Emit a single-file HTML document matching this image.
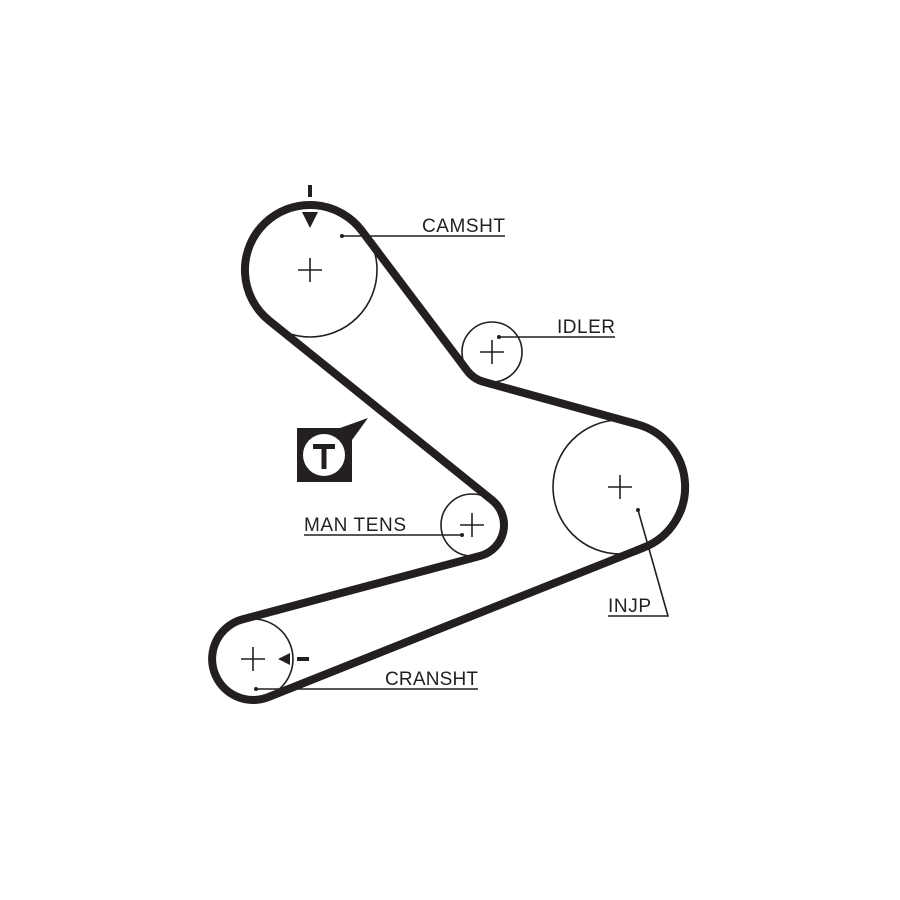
<!DOCTYPE html>
<html><head><meta charset="utf-8"><style>
html,body{margin:0;padding:0;background:#fff;}
svg{display:block;}
text{font-family:"Liberation Sans",sans-serif;font-size:19px;fill:#231f20;}
</style></head><body>
<svg width="900" height="900" viewBox="0 0 900 900" xmlns="http://www.w3.org/2000/svg">
<g fill="none" stroke="#231f20" stroke-width="1.6">
<circle cx="310" cy="270" r="67"/>
<circle cx="492" cy="352" r="30"/>
<circle cx="620" cy="487" r="67"/>
<circle cx="472" cy="525" r="31"/>
<circle cx="253" cy="659" r="40"/>
<path d="M298 270h24M310 258v24M480 352h24M492 340v24M608 487h24M620 475v24M460 525h24M472 513v24M241 659h24M253 647v24"/>
<path d="M342 236H505M499 337H615M638 510L668 616H608M304 535H462M256 689H478"/>
</g>
<path d="M361.9 230.9 L467.2 370.7 A31 31 0 0 0 483.8 381.9 L637.3 424.3 A65 65 0 0 1 644.1 547.4 L268.2 697.1 A41 41 0 1 1 242.4 619.4 L480.3 555.9 A32 32 0 0 0 492.1 500.1 L269.2 320.6 A65 65 0 1 1 361.9 230.9 Z" fill="none" stroke="#231f20" stroke-width="8" stroke-linejoin="round"/>
<g fill="#231f20">
<circle cx="342" cy="236" r="2"/><circle cx="499" cy="337" r="2"/><circle cx="638" cy="510" r="2"/><circle cx="462" cy="535" r="2"/><circle cx="256" cy="689" r="2"/>
<rect x="308" y="185" width="4" height="12"/>
<polygon points="302,212 318,212 310,228"/>
<polygon points="278,659 290,653 290,665"/>
<rect x="297" y="657" width="12" height="4"/>
<path d="M297 428 H340 L368 418 L352 440 V482 H297 Z"/>
</g>
<circle cx="324" cy="455" r="21" fill="#fff"/>
<path d="M313 444h22v5h-8.5v20h-5v-20h-8.5z" fill="#231f20"/>
<text x="422" y="232" textLength="83">CAMSHT</text>
<text x="557" y="333" textLength="58">IDLER</text>
<text x="608" y="612" textLength="43">INJP</text>
<text x="304" y="531" textLength="102">MAN TENS</text>
<text x="385" y="685" textLength="93">CRANSHT</text>
</svg>
</body></html>
